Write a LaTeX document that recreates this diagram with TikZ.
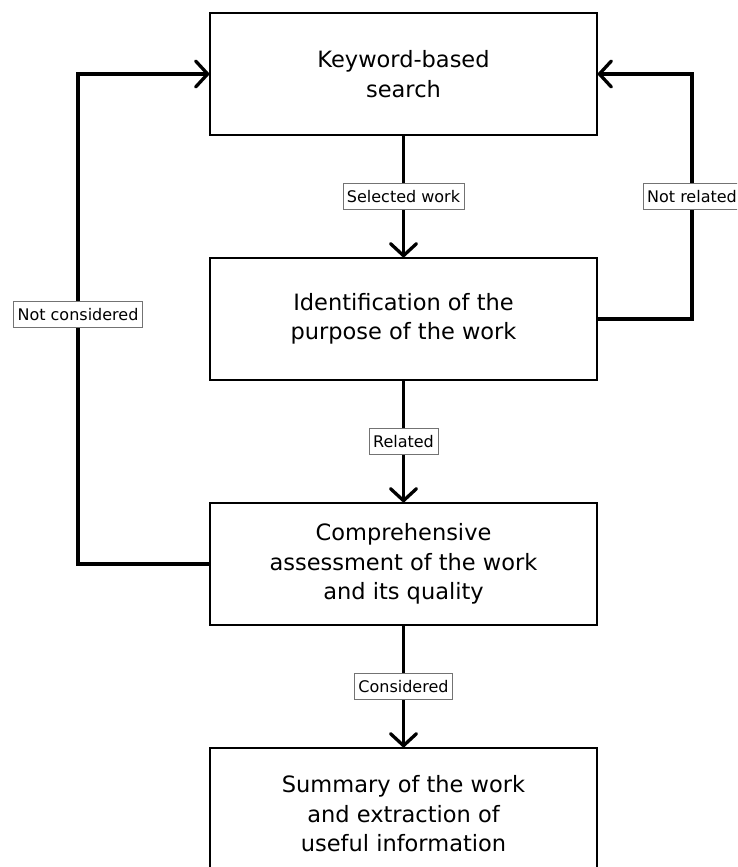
\documentclass[tikz,border=0pt]{standalone}
\usepackage{fontspec}
\setmainfont{DejaVu Sans}
\usetikzlibrary{arrows.meta}
\begin{document}
\begin{tikzpicture}[x=1pt,y=-1pt,
  stage/.style={draw, line width=1.4pt, minimum width=387pt, minimum height=122pt,
    align=center, inner sep=0pt, font=\fontsize{22.5}{29.5}\selectfont},
  flow/.style={line width=3.3pt, line join=miter,
    -{Straight Barb[length=12pt, width=26pt, line width=3.3pt, round]}},
  tag/.style={draw=black!55, line width=0.7pt, fill=white, inner xsep=4pt,
    inner ysep=0pt, minimum height=26pt, font=\fontsize{16}{18}\selectfont}]
  \clip (0,0) rectangle (737,867);
  \fill[white] (0,0) rectangle (737,867);

  % process stages
  \node[stage] (search) at (403.5,74) {Keyword-based\\search};
  \node[stage] (purpose) at (403.5,319) {Identification of the\\purpose of the work};
  \node[stage] (assess) at (403.5,564) {Comprehensive\\assessment of the work\\and its quality};
  \node[stage, minimum height=132pt] (summary) at (403.5,814) {Summary of the work\\and extraction of\\useful information};

  % loop-back corners
  \coordinate (rtop) at (692,74);
  \coordinate (rbot) at (692,319);
  \coordinate (ltop) at (78,74);
  \coordinate (lbot) at (78,564);

  % main flow
  \draw[flow] (search) -- node[tag] {Selected work} (purpose);
  \draw[flow] (purpose) -- node[tag] {Related} (assess);
  \draw[flow] (assess) -- node[tag] {Considered} (summary);

  % feedback loops
  \draw[flow] (purpose.east) -- (rbot) -- node[tag, pos=0.5] {Not related} (rtop) -- (search.east);
  \draw[flow] (assess.west) -- (lbot) -- node[tag, pos=0.51] {Not considered} (ltop) -- (search.west);
\end{tikzpicture}
\end{document}
